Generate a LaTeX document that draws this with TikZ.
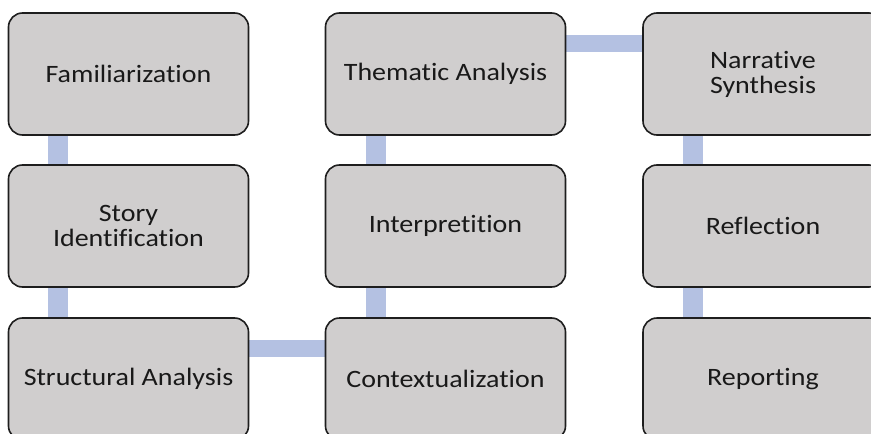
\documentclass[tikz,border=0pt]{standalone}
\usepackage{fontspec}
\setmainfont[FakeStretch=1.12,Ligatures=NoCommon]{Carlito}
\usetikzlibrary{backgrounds}
\definecolor{boxfill}{HTML}{D0CECE}
\definecolor{boxline}{HTML}{1E1E1E}
\definecolor{conn}{HTML}{B4C1E2}
\begin{document}
\begin{tikzpicture}[x=1pt,y=-1pt,
  stepbox/.style={draw=boxline, line width=1.6pt, fill=boxfill, rounded corners=14pt,
    minimum width=240pt, minimum height=122pt, inner sep=0pt, align=center,
    font=\fontsize{25}{25}\selectfont, text=black!90},
  vconn/.style={draw=conn, line width=20pt},
  hconn/.style={draw=conn, line width=17pt}]
\useasboundingbox (0,0) rectangle (871,434);
\node[stepbox] (fam) at (128.5,74) {Familiarization};
\node[stepbox] (story) at (128.5,226) {Story\\Identification};
\node[stepbox] (struct) at (128.5,379) {Structural Analysis};
\node[stepbox] (them) at (445.5,74) {Thematic Analysis};
\node[stepbox] (interp) at (445.5,226) {Interpretition};
\node[stepbox] (context) at (445.5,379) {Contextualization};
\node[stepbox] (narr) at (763,74) {Narrative\\Synthesis};
\node[stepbox] (refl) at (763,226) {Reflection};
\node[stepbox] (rep) at (763,379) {Reporting};
\begin{pgfonlayer}{background}
\draw[vconn] ([xshift=-70.5pt]fam.south) -- ([xshift=-70.5pt]story.north);
\draw[vconn] ([xshift=-70.5pt]story.south) -- ([xshift=-70.5pt]struct.north);
\draw[hconn] ([yshift=30.5pt]struct.east) -- ([yshift=30.5pt]context.west);
\draw[vconn] ([xshift=-70pt]context.north) -- ([xshift=-70pt]interp.south);
\draw[vconn] ([xshift=-70pt]interp.north) -- ([xshift=-70pt]them.south);
\draw[hconn] ([yshift=30.5pt]them.east) -- ([yshift=30.5pt]narr.west);
\draw[vconn] ([xshift=-70.5pt]narr.south) -- ([xshift=-70.5pt]refl.north);
\draw[vconn] ([xshift=-70.5pt]refl.south) -- ([xshift=-70.5pt]rep.north);
\end{pgfonlayer}
\end{tikzpicture}
\end{document}
